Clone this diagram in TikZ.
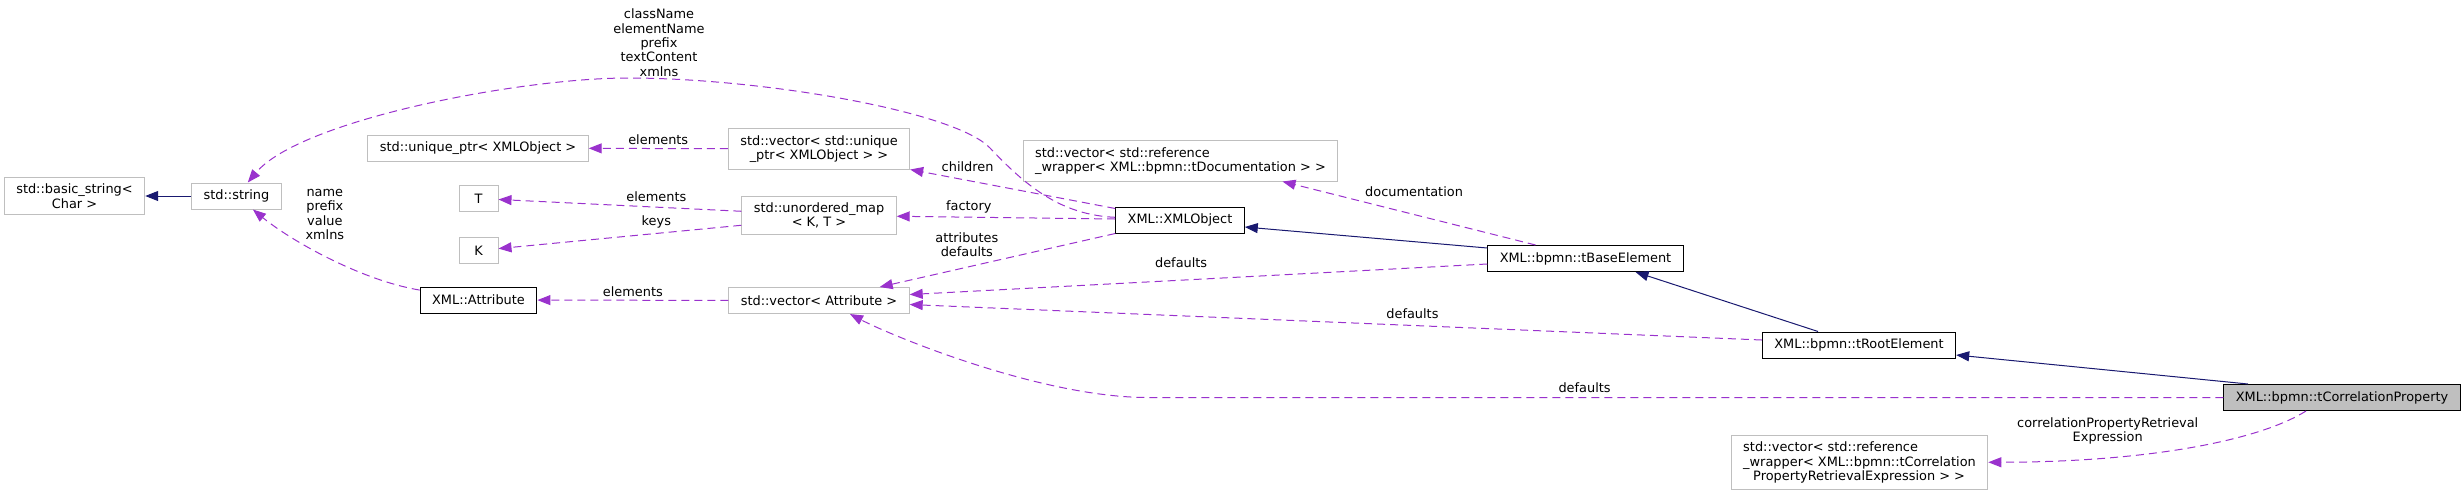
\documentclass[tikz,border=0pt]{standalone}
\usepackage{fontspec}
\setmainfont{DejaVu Sans}
\usepackage{tikz}
\usetikzlibrary{arrows.meta,positioning,calc}
\usepackage{xcolor}
\definecolor{usecol}{HTML}{9A32CD}
\definecolor{inhcol}{HTML}{191970}
\definecolor{extgray}{HTML}{BFBFBF}
\newcommand{\doxfont}{\fontsize{12.9pt}{14.4pt}\selectfont}

\begin{document}
\begin{tikzpicture}[
  x=1pt, y=-1pt,
  box/.style={draw=black, line width=1pt, fill=white, font=\doxfont, align=center,
    inner xsep=12pt, inner ysep=6.4pt, minimum height=26pt},
  extbox/.style={box, draw=extgray},
  mainbox/.style={box, fill=extgray},
  lbl/.style={font=\doxfont, align=center, inner sep=1pt},
  inherit/.style={draw=inhcol, line width=1pt, -{Triangle[length=13pt,width=10pt]}},
  uses/.style={draw=usecol, line width=1pt, dash pattern=on 8pt off 5pt, -{Triangle[length=13pt,width=10pt]}},
]
  \useasboundingbox (0,0) rectangle (2464,496);

  % left part
  \node[extbox] (bstr) at (74.5,196) {std::basic\_string<\\ Char >};
  \node[extbox] (str) at (236.5,196) {std::string};
  \node[extbox] (uptr) at (478,148) {std::unique\_ptr< XMLObject >};
  \node[extbox, minimum width=39pt] (T) at (478.5,198.5) {T};
  \node[extbox, minimum width=39pt, below=25pt of T] (K) {K};
  \node[box] (attr) at (478.5,300) {XML::Attribute};

  % containers
  \node[extbox] (vuptr) at (819,149) {std::vector< std::unique\\ \_ptr< XMLObject > >};
  \node[extbox, below=26pt of vuptr] (umap) {std::unordered\_map\\ < K, T >};
  \node[extbox, below=52pt of umap] (vattr) {std::vector< Attribute >};
  \node[extbox, align=left] (vdoc) at (1180.5,161) {std::vector< std::reference\\ \_wrapper< XML::bpmn::tDocumentation > >};

  % class chain
  \node[box] (xobj) at (1180,220) {XML::XMLObject};
  \node[box] (tbase) at (1585.5,258.5) {XML::bpmn::tBaseElement};
  \node[box] (troot) at (1859,345) {XML::bpmn::tRootElement};
  \node[mainbox] (tcorr) at (2342,397.5) {XML::bpmn::tCorrelationProperty};
  \node[extbox, align=left] (tret) at (1859.5,462.5) {std::vector< std::reference\\ \_wrapper< XML::bpmn::tCorrelation\\ \hspace*{10pt}PropertyRetrievalExpression > >};

  \draw[inherit] (str) -- (bstr);
  \draw[uses] (xobj) .. controls (1060,215) and (1025,185) .. (990,148)
    .. controls (955,111) and (760,78) .. (628,78)
    node[lbl, anchor=south, xshift=31pt] {className\\ elementName\\ prefix\\ textContent\\ xmlns}
    .. controls (520,78) and (300,120) .. (str);
  \draw[uses] (attr) .. controls (360,280) and (290,240)
    .. node[lbl, pos=0.7, anchor=south west, xshift=10pt, yshift=-3pt] {name\\ prefix\\ value\\ xmlns} (str);
  \draw[uses] (vuptr) -- node[lbl, above=2pt] {elements} (uptr);
  \draw[uses] ([yshift=4pt]umap.west) -- node[lbl, pos=0.35, above=4pt] {elements} (T);
  \draw[uses] ([yshift=-10pt]umap.west) -- node[lbl, pos=0.35, above=4pt] {keys} (K);
  \draw[uses] (vattr) -- node[lbl, above=2pt] {elements} (attr);

  \draw[uses] ([yshift=-2pt]xobj.north west) -- node[lbl, pos=0.72, above=7pt] {children} (vuptr.south east);
  \draw[uses] ([yshift=1pt]xobj.west) -- node[lbl, pos=0.67, above=2pt] {factory} ([yshift=-1pt]umap.east);
  \draw[uses] (xobj.south west) -- node[lbl, pos=0.63, above=9pt] {attributes\\ defaults} ([xshift=-30pt]vattr.north east);

  \draw[inherit] ([yshift=-3pt]tbase.north west) -- ([yshift=-7pt]xobj.east);
  \draw[uses] ([xshift=-50pt]tbase.north) -- node[lbl, pos=0.48, above=16pt] {documentation} ([xshift=102pt]vdoc.south);
  \draw[uses] ([yshift=-5.5pt]tbase.west) -- node[lbl, pos=0.53, above=11pt] {defaults} ([yshift=6pt]vattr.east);

  \draw[inherit] ([xshift=-41pt]troot.north) -- ([xshift=50pt]tbase.south);
  \draw[uses] ([yshift=5pt]troot.west) -- node[lbl, pos=0.41, above=5pt] {defaults} ([yshift=-4pt]vattr.east);

  \draw[inherit] ([xshift=-94pt]tcorr.north) -- ([yshift=-10pt]troot.east);
  \draw[uses] (tcorr.west) -- node[lbl, pos=0.594, above=3pt] {defaults} (1148,397.5)
    .. controls (1040,397.5) and (890,335) .. ([xshift=31pt]vattr.south);
  \draw[uses] ([xshift=-36pt]tcorr.south) .. controls (2260,440) and (2150,462)
    .. node[lbl, pos=0.73, above=12pt] {correlationPropertyRetrieval\\ Expression} (tret);
\end{tikzpicture}
\end{document}
